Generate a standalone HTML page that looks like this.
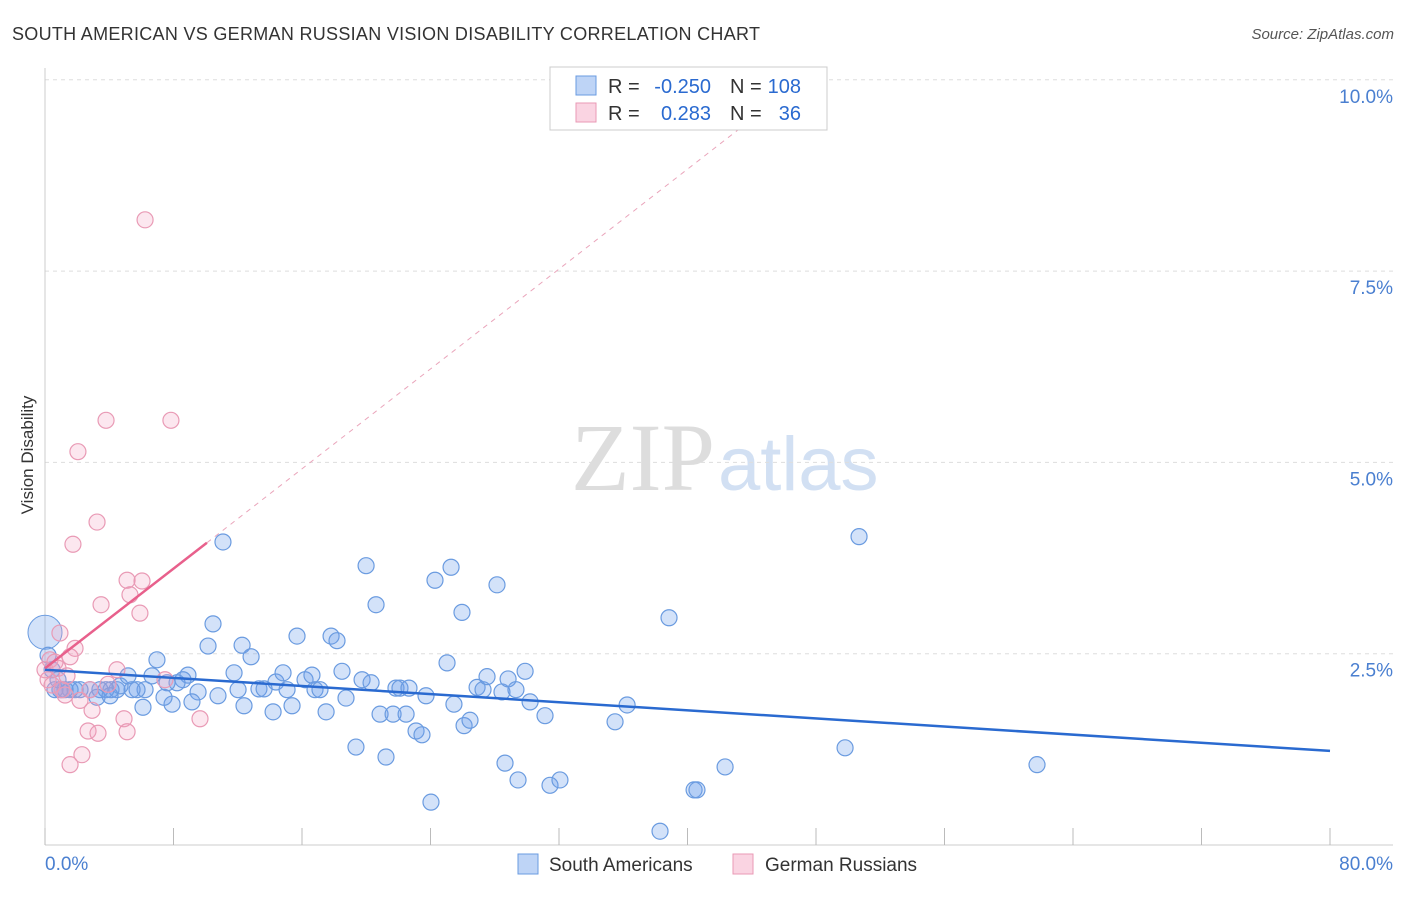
<!DOCTYPE html>
<html><head><meta charset="utf-8"><style>
body{margin:0;background:#fff;width:1406px;height:892px;overflow:hidden;font-family:"Liberation Sans",sans-serif}
</style></head><body>
<svg id="c" width="1406" height="892" xmlns="http://www.w3.org/2000/svg">
<text x="12" y="40" font-size="18" fill="#333" textLength="748">SOUTH AMERICAN VS GERMAN RUSSIAN VISION DISABILITY CORRELATION CHART</text>
<text x="1394" y="39" font-size="15" fill="#555" font-style="italic" text-anchor="end">Source: ZipAtlas.com</text>
<text x="33" y="455" font-size="17" fill="#333" text-anchor="middle" transform="rotate(-90 33 455)">Vision Disability</text>
<text x="715" y="490" font-size="96" fill="#ddd" text-anchor="end" font-family="Liberation Serif">ZIP</text>
<text x="718" y="490" font-size="76" fill="#d2e0f3">atlas</text>
<g id="grid"></g><g id="marks"></g>
<g>
<rect x="550" y="67" width="277" height="63" fill="#fff" stroke="#ccc"/>
<rect x="576" y="76" width="20" height="19" fill="rgba(110,160,235,0.45)" stroke="#6a9be0"/>
<rect x="576" y="103" width="20" height="19" fill="rgba(245,160,190,0.45)" stroke="#e99ab5"/>
<g font-size="20" fill="#333">
<text x="608" y="93">R =</text>
<text x="711" y="93" fill="#2a6ad0" text-anchor="end">-0.250</text>
<text x="730" y="93">N =</text>
<text x="801" y="93" fill="#2a6ad0" text-anchor="end">108</text>
<text x="608" y="120">R =</text>
<text x="711" y="120" fill="#2a6ad0" text-anchor="end">0.283</text>
<text x="730" y="120">N =</text>
<text x="801" y="120" fill="#2a6ad0" text-anchor="end">36</text>
</g>
</g>
<g>
<rect x="518" y="854" width="20" height="20" fill="rgba(110,160,235,0.45)" stroke="#6a9be0"/>
<text x="549" y="871" font-size="19" fill="#333">South Americans</text>
<rect x="733" y="854" width="20" height="20" fill="rgba(245,160,190,0.45)" stroke="#e99ab5"/>
<text x="765" y="871" font-size="19" fill="#333">German Russians</text>
</g>
<text x="45" y="870" font-size="19" fill="#4a7fd0">0.0%</text>
<text x="1393" y="870" font-size="19" fill="#4a7fd0" text-anchor="end">80.0%</text>
</svg>
<script>
const yTicks=[10,7.5,5,2.5];
const yTickLabels=["10.0%","7.5%","5.0%","2.5%"];
const xTicks=[0,8,16,24,32,40,48,56,64,72,80];
const blueX=[11.08,10.46,10.15,12.27,11.77,12.83,6.97,8.90,6.66,8.59,8.22,7.60,6.23,5.73,5.42,4.48,4.11,3.80,3.42,2.80,2.18,1.87,1.56,1.25,0.93,0.62,4.67,5.17,3.24,4.05,6.10,7.91,7.41,9.53,9.15,10.77,12.02,12.39,13.32,13.64,14.20,14.38,14.82,15.07,15.38,15.69,16.19,16.62,16.81,17.12,17.50,17.81,18.18,18.49,18.74,19.36,19.74,19.99,20.30,20.61,20.86,21.23,21.67,21.85,22.10,22.48,22.66,23.10,23.47,23.72,24.03,24.28,25.03,25.28,25.46,25.96,26.09,26.46,26.90,27.27,27.52,28.14,28.45,28.64,28.83,29.32,29.45,29.89,30.20,31.13,31.44,32.06,35.49,36.24,38.29,38.85,40.41,40.59,42.34,49.81,50.68,61.76,0.19,0.44,0.81,1.06];
const blueY=[3.96,2.89,2.60,2.61,2.25,2.46,2.42,2.22,2.21,2.16,2.12,2.12,2.03,2.03,2.03,2.03,2.03,2.03,2.03,2.03,2.03,2.03,2.03,2.03,2.03,2.03,2.08,2.21,1.93,1.95,1.80,1.84,1.93,2.00,1.87,1.95,2.03,1.82,2.04,2.04,1.74,2.13,2.25,2.03,1.82,2.73,2.16,2.22,2.03,2.03,1.74,2.73,2.67,2.27,1.92,1.28,2.16,3.65,2.12,3.14,1.71,1.15,1.71,2.05,2.05,1.71,2.05,1.49,1.44,1.95,0.56,3.46,2.38,3.63,1.84,3.04,1.56,1.63,2.06,2.03,2.20,3.40,2.00,1.07,2.17,2.03,0.85,2.27,1.87,1.69,0.78,0.85,1.61,1.83,0.18,2.97,0.72,0.72,1.02,1.27,4.03,1.05,2.48,2.29,2.16,2.03];
const pinkX=[6.23,3.80,7.84,2.05,3.24,1.74,5.11,6.04,3.49,5.29,5.91,0.93,1.87,1.56,0.31,0.62,0,0.19,4.48,7.47,3.92,2.80,1.25,2.18,2.93,4.92,9.65,2.68,3.30,5.11,2.30,1.56,0.81,1.06,0.44,1.37];
const pinkY=[8.17,5.55,5.55,5.14,4.22,3.93,3.46,3.45,3.14,3.27,3.03,2.77,2.57,2.46,2.42,2.39,2.29,2.16,2.29,2.16,2.10,2.03,1.96,1.89,1.76,1.65,1.65,1.49,1.46,1.48,1.18,1.05,2.31,2.03,2.09,2.21];
const blueTrend=[[0,2.29],[80,1.23]];
const pinkTrend=[[0,2.31],[10.08,3.95]];
const pinkTrendExt=[[10.08,3.95],[44.4,9.55]];
const NS="http://www.w3.org/2000/svg";
const sx=v=>45+v*(1285/80), sy=v=>845-v*76.52;
function mk(t,a,p){const e=document.createElementNS(NS,t);for(const k in a)e.setAttribute(k,a[k]);p.appendChild(e);return e;}
const g=document.getElementById('grid'), m=document.getElementById('marks');
yTicks.forEach((t,i)=>{
 const l=mk('line',{x1:45,x2:1393,y1:sy(t),y2:sy(t),stroke:'#ddd','stroke-dasharray':'4,4'},g);
 
 
 const tx=mk('text',{x:1393,y:sy(t)+23,'font-size':19,fill:'#4a7fd0','text-anchor':'end'},g);
 tx.textContent=yTickLabels[i];
 
 
});
const ax=mk('line',{x1:45,x2:45,y1:68,y2:845,stroke:'#ccc'},g);


const bx=mk('line',{x1:45,x2:1393,y1:845,y2:845,stroke:'#ccc'},g);


xTicks.forEach(t=>{
 const l=mk('line',{x1:sx(t),x2:sx(t),y1:828,y2:845,stroke:'#bbb'},g);
 
 
});
const big=mk('circle',{cx:sx(0),cy:sy(2.78),r:17,fill:'rgba(110,160,235,0.3)',stroke:'#6a9be0'},m);


blueX.forEach((x,i)=>{
 const c=mk('circle',{cx:sx(x),cy:sy(blueY[i]),r:8,fill:'rgba(110,160,235,0.3)',stroke:'#6a9be0','stroke-width':1.2},m);
 
 
});
pinkX.forEach((x,i)=>{
 const c=mk('circle',{cx:sx(x),cy:sy(pinkY[i]),r:8,fill:'rgba(245,160,190,0.25)',stroke:'#e99ab5','stroke-width':1.2},m);
 
 
});
const bl=mk('line',{x1:sx(blueTrend[0][0]),y1:sy(blueTrend[0][1]),x2:sx(blueTrend[1][0]),y2:sy(blueTrend[1][1]),stroke:'#2a6ad0','stroke-width':2.5},m);


const pl=mk('line',{x1:sx(pinkTrend[0][0]),y1:sy(pinkTrend[0][1]),x2:sx(pinkTrend[1][0]),y2:sy(pinkTrend[1][1]),stroke:'#e8608c','stroke-width':2.5},m);


const pe=mk('line',{x1:sx(pinkTrendExt[0][0]),y1:sy(pinkTrendExt[0][1]),x2:sx(pinkTrendExt[1][0]),y2:sy(pinkTrendExt[1][1]),stroke:'#eaa5bb','stroke-width':1,'stroke-dasharray':'5,5'},m);


</script>
</body></html>
